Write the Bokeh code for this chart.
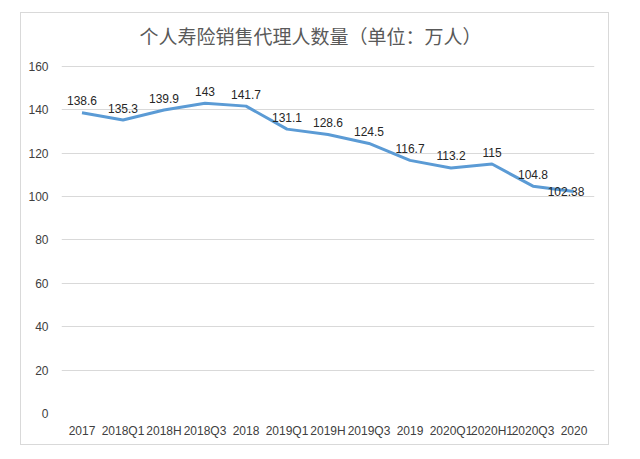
from bokeh.plotting import figure
from bokeh.models import ColumnDataSource, LabelSet, Label, FixedTicker
from bokeh.core.properties import value
from bokeh.embed import file_html
from bokeh.resources import INLINE

categories = ["2017", "2018Q1", "2018H", "2018Q3", "2018", "2019Q1", "2019H",
              "2019Q3", "2019", "2020Q1", "2020H1", "2020Q3", "2020"]
agents = [138.6, 135.3, 139.9, 143, 141.7, 131.1, 128.6, 124.5, 116.7, 113.2, 115, 104.8, 102.38]
value_labels = ["138.6", "135.3", "139.9", "143", "141.7", "131.1", "128.6", "124.5",
                "116.7", "113.2", "115", "104.8", "102.38"]
y_ticks = [0, 20, 40, 60, 80, 100, 120, 140, 160]
title_text = "个人寿险销售代理人数量（单位：万人）"

# frame spans the whole chart height; extra room above 160 holds the title
p = figure(width=589, height=433, x_range=categories, y_range=(0, 184.4),
           output_backend="svg", toolbar_location=None,
           min_border_left=40, min_border_right=16, min_border_top=0, min_border_bottom=33)
p.margin = (12, 0, 0, 20)
p.styles = {"border": "1px solid #d9d9d9"}
p.outline_line_color = None
p.background_fill_color = "white"
p.border_fill_color = "white"

src = ColumnDataSource(dict(x=categories, y=agents, t=value_labels,
                            dx=[0] * 12 + [-8], dy=[12] * 12 + [0]))
p.line("x", "y", source=src, line_color="#5B9BD5", line_width=3)

labels = LabelSet(x="x", y="y", text="t", source=src, x_offset="dx", y_offset="dy",
                  text_align="center", text_baseline="middle",
                  text_font=value("Liberation Sans"), text_font_size="12px", text_color="#262626")
p.add_layout(labels)

title = Label(x=249, y=174.3, x_units="screen", y_units="data", text=title_text,
              text_align="center", text_baseline="middle",
              text_font="Noto Sans CJK SC", text_font_size="19px", text_color="#595959")
p.add_layout(title)

p.yaxis.ticker = FixedTicker(ticks=y_ticks)
for ax in (p.xaxis[0], p.yaxis[0]):
    ax.axis_line_color = None
    ax.major_tick_line_color = None
    ax.minor_tick_line_color = None
    ax.major_label_text_font = "Liberation Sans"
    ax.major_label_text_font_size = "12px"
    ax.major_label_text_color = "#404040"
p.yaxis.major_label_standoff = 7
p.xaxis.major_label_standoff = 4
p.xgrid.grid_line_color = None
p.ygrid.grid_line_color = "#d9d9d9"
p.ygrid.grid_line_width = 1

open("out.html", "w").write(file_html(p, INLINE))
